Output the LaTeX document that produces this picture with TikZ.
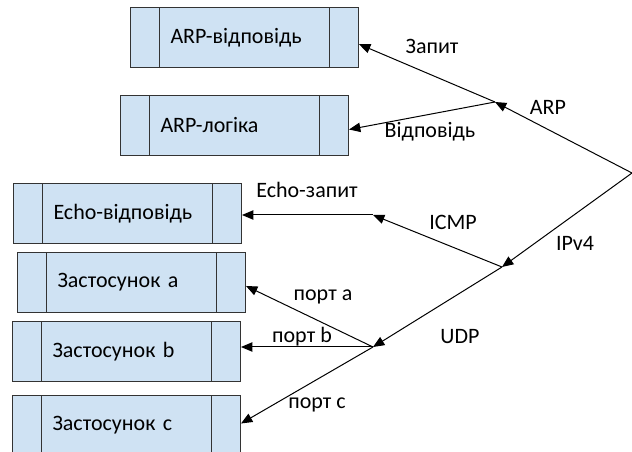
\documentclass[tikz,border=0pt]{standalone}
\usepackage{fontspec}
\setmainfont{Carlito}
\usepackage{tikz}
\usetikzlibrary{arrows.meta}
\definecolor{boxblue}{RGB}{207,226,243}
\tikzset{
  procbox/.style = {draw=black!80, fill=boxblue, line width=0.75pt,
    minimum height=45pt, text width=111pt, inner xsep=30pt, align=left,
    anchor=north west,
    path picture={\draw[-, line width=0.75pt, black!80]
      ([xshift=21.4pt]path picture bounding box.north west) -- ([xshift=21.4pt]path picture bounding box.south west)
      ([xshift=-21.4pt]path picture bounding box.north east) -- ([xshift=-21.4pt]path picture bounding box.south east);}},
  lbl/.style = {inner sep=0pt}
}

\begin{document}
\begin{tikzpicture}[x=0.75pt,y=-0.75pt,->,>={Triangle[length=8.5pt,width=7pt]},
  line width=0.75pt, font=\fontsize{16.5}{19}\selectfont]
\useasboundingbox (0,0) rectangle (632,452);

% Blocks
\node[procbox] (arpans) at (130,7) {ARP-відповідь};
\node[procbox] (arplog) at (120,95) {ARP-логіка};
\node[procbox] (echo) at (13,183) {Echo-відповідь};
\node[procbox] (appa) at (17,252) {Застосунок a};
\node[procbox] (appb) at (12,321) {Застосунок b};
\node[procbox] (appc) at (12,395) {Застосунок c};

% Branch points
\coordinate (ipin) at (632,173);
\coordinate (arpj) at (495,102);
\coordinate (ipj) at (502,267);
\coordinate (icmpj) at (373,215);
\coordinate (udpj) at (373,347);

\draw (ipin) -- (arpj);
\draw (arpj) -- ([yshift=-5pt]arpans.east);
\draw (arpj) -- ([yshift=-3pt]arplog.east);
\draw (ipin) -- (ipj);
\draw (ipj) -- (icmpj);
\draw (icmpj) -- (echo.east |- icmpj);
\draw (ipj) -- (udpj);
\draw (udpj) -- ([yshift=-2.6pt]appa.east);
\draw (udpj) -- (appb.east |- udpj);
\draw (udpj) -- ([yshift=1.5pt]appc.east);

% Labels
\node[lbl] (lzap) at (432,46) {Запит};
\node[lbl] (larp) at (548,107) {ARP};
\node[lbl] (lvid) at (430,132) {Відповідь};
\node[lbl] (lecho) at (307,190) {Echo-запит};
\node[lbl] (licmp) at (453,222) {ICMP};
\node[lbl] (lip) at (575,243) {IPv4};
\node[lbl] (lpa) at (323,297) {порт a};
\node[lbl] (lpb) at (302,337) {порт b};
\node[lbl] (ludp) at (460,337) {UDP};
\node[lbl] (lpc) at (317,405) {порт c};
\end{tikzpicture}
\end{document}
